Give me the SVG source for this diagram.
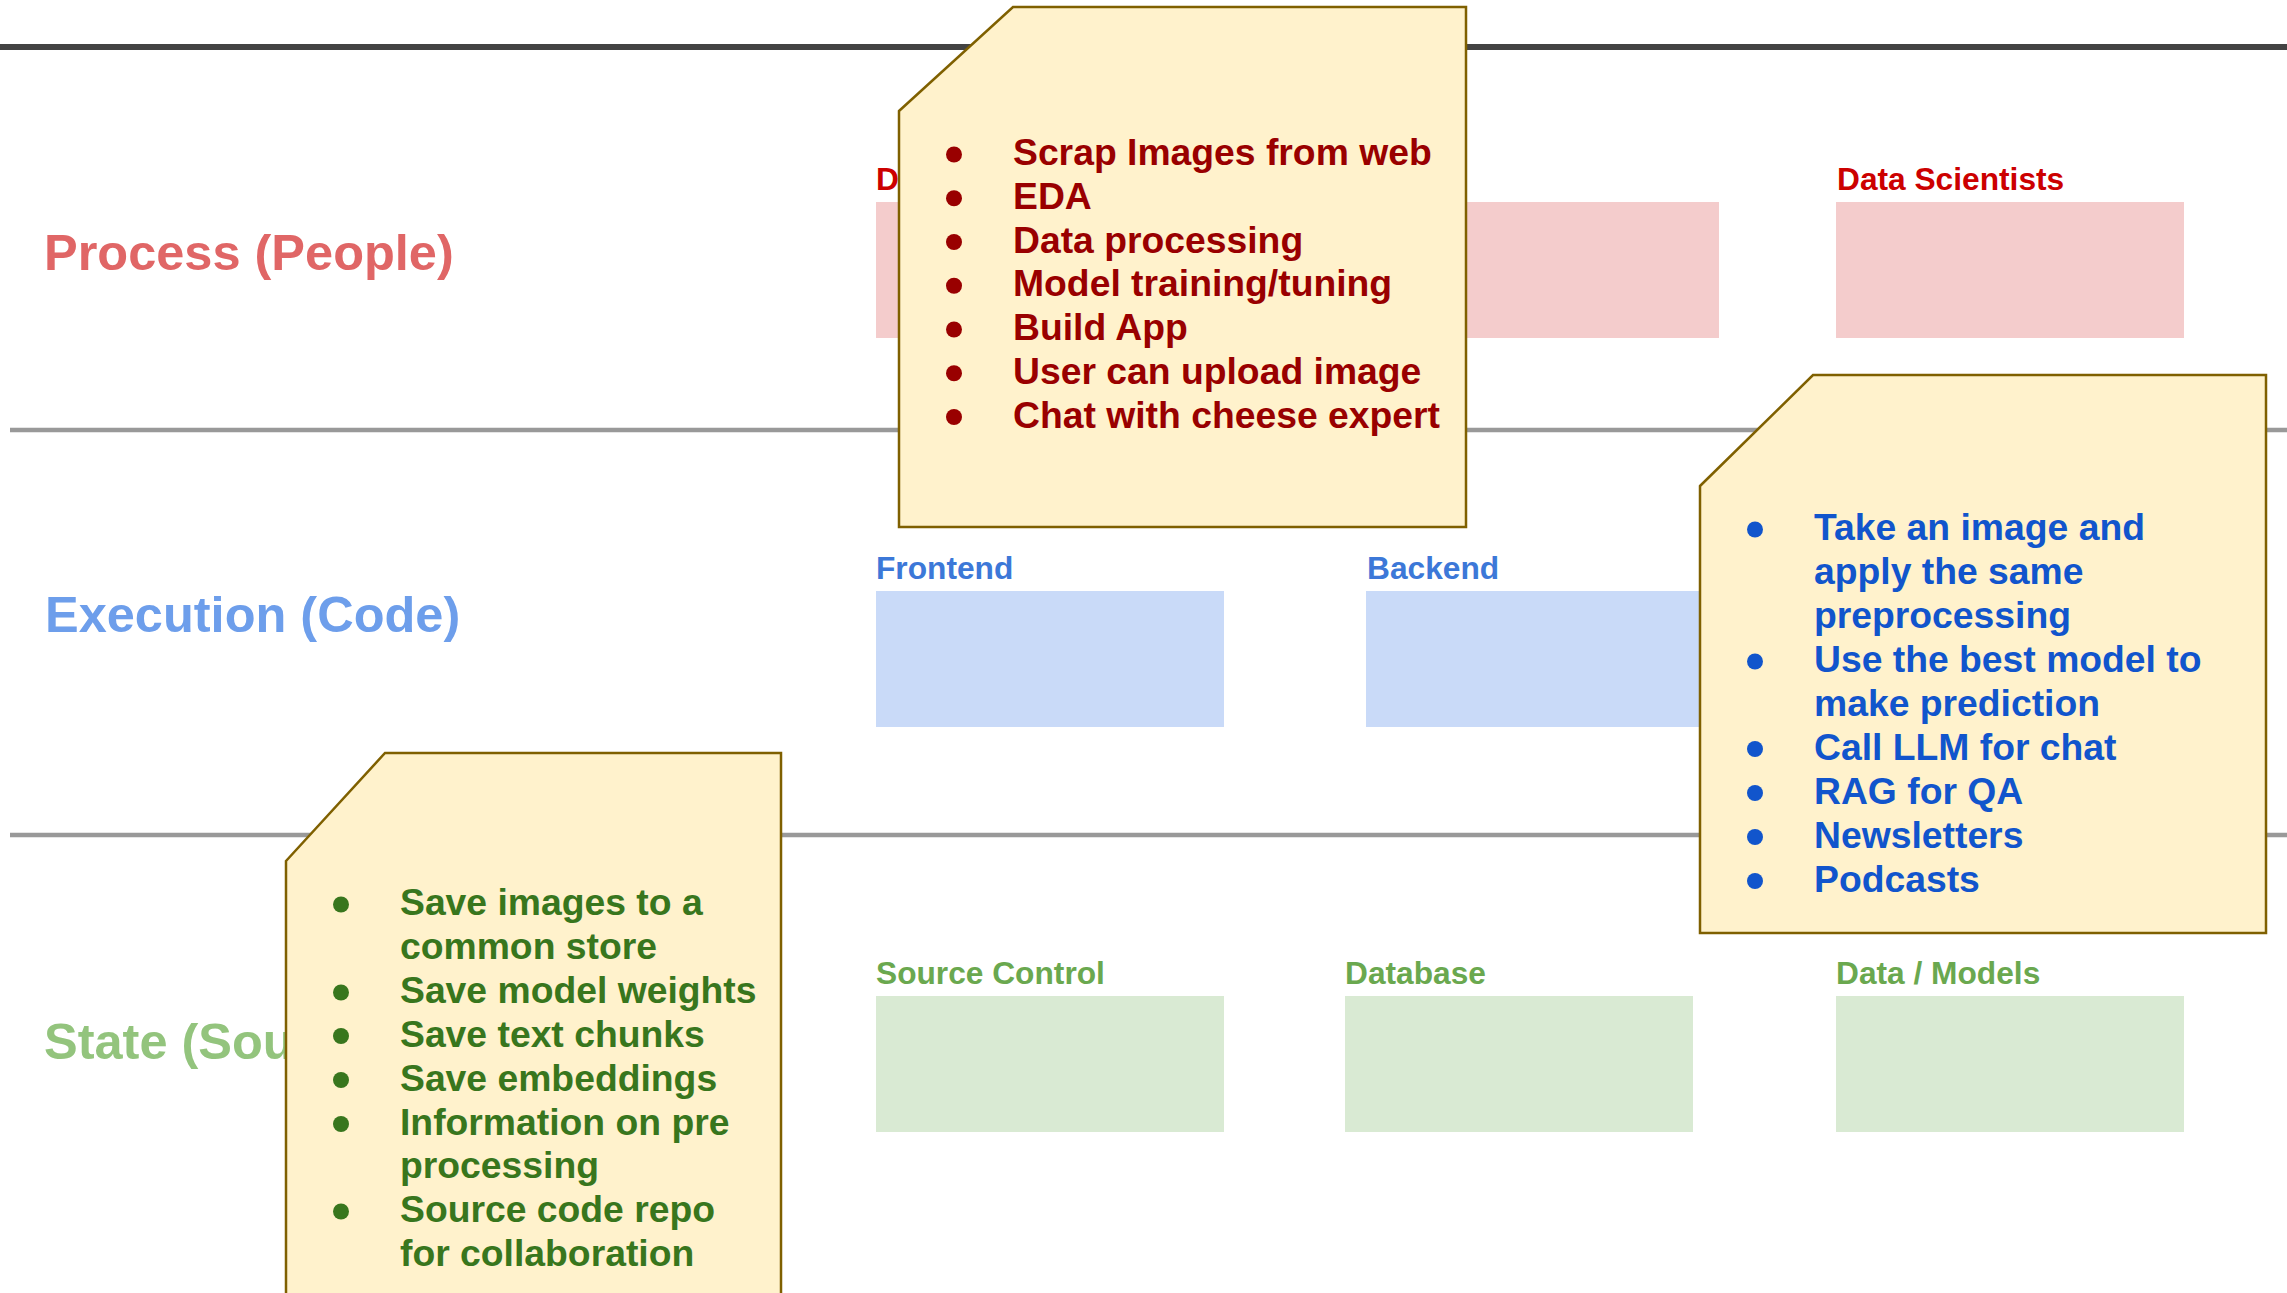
<svg xmlns="http://www.w3.org/2000/svg" width="2287" height="1293" viewBox="0 0 2287 1293">
  <style>
    text { font-family: "Liberation Sans", Arial, sans-serif; font-weight: bold; }
    .lane { font-size: 50.5px; }
    .cap { font-size: 31.7px; }
    .item { font-size: 37.3px; }
    .note { fill: #fff2cc; stroke: #7f6000; stroke-width: 2.5; stroke-linejoin: miter; }
    .divider { stroke: #999999; stroke-width: 4.5; }
    .pink { fill: #f4cccc; }
    .blue { fill: #c9daf8; }
    .green { fill: #d9ead3; }
  </style>

  <rect width="2287" height="1293" fill="#ffffff"/>

  <!-- lane dividers -->
  <g id="dividers">
    <line x1="0" y1="47" x2="2287" y2="47" stroke="#434343" stroke-width="6"/>
    <line class="divider" x1="10" y1="430" x2="2287" y2="430"/>
    <line class="divider" x1="10" y1="835" x2="2287" y2="835"/>
  </g>

  <g id="connectors"/>

  <!-- lane titles -->
  <g id="lane-process"><text class="lane" x="44" y="270" fill="#e06666">Process (People)</text></g>
  <g id="lane-execution"><text class="lane" x="45" y="632" fill="#6d9eeb">Execution (Code)</text></g>
  <g id="lane-state"><text class="lane" x="44" y="1059" fill="#93c47d">State (Sou</text></g>

  <!-- process row -->
  <g id="people-1">
    <text class="cap" x="876" y="190" fill="#cc0000">D</text>
    <rect class="pink" x="876" y="202" width="348" height="136"/>
  </g>
  <g id="people-2">
    <rect class="pink" x="1371" y="202" width="348" height="136"/>
  </g>
  <g id="data-scientists">
    <text class="cap" x="1837" y="190" fill="#cc0000">Data Scientists</text>
    <rect class="pink" x="1836" y="202" width="348" height="136"/>
  </g>

  <!-- execution row -->
  <g id="frontend">
    <text class="cap" x="876" y="579" fill="#3c78d8">Frontend</text>
    <rect class="blue" x="876" y="591" width="348" height="136"/>
  </g>
  <g id="backend">
    <text class="cap" x="1367" y="579" fill="#3c78d8">Backend</text>
    <rect class="blue" x="1366" y="591" width="348" height="136"/>
  </g>

  <!-- state row -->
  <g id="source-control">
    <text class="cap" x="876" y="984" fill="#6aa84f">Source Control</text>
    <rect class="green" x="876" y="996" width="348" height="136"/>
  </g>
  <g id="database">
    <text class="cap" x="1345" y="984" fill="#6aa84f">Database</text>
    <rect class="green" x="1345" y="996" width="348" height="136"/>
  </g>
  <g id="data-models">
    <text class="cap" x="1836" y="984" fill="#6aa84f">Data / Models</text>
    <rect class="green" x="1836" y="996" width="348" height="136"/>
  </g>

  <!-- process note -->
  <g id="note-process">
    <polygon class="note" points="899,111 1013,7 1466,7 1466,527 899,527"/>
    <g fill="#990000">
      <circle cx="954" cy="154.5" r="8"/>
      <circle cx="954" cy="198.25" r="8"/>
      <circle cx="954" cy="242" r="8"/>
      <circle cx="954" cy="285.75" r="8"/>
      <circle cx="954" cy="329.5" r="8"/>
      <circle cx="954" cy="373.25" r="8"/>
      <circle cx="954" cy="417" r="8"/>
      <text class="item" x="1013" y="165">Scrap Images from web</text>
      <text class="item" x="1013" y="208.75">EDA</text>
      <text class="item" x="1013" y="252.5">Data processing</text>
      <text class="item" x="1013" y="296.25">Model training/tuning</text>
      <text class="item" x="1013" y="340">Build App</text>
      <text class="item" x="1013" y="383.75">User can upload image</text>
      <text class="item" x="1013" y="427.5">Chat with cheese expert</text>
    </g>
  </g>

  <!-- execution note -->
  <g id="note-execution">
    <polygon class="note" points="1700,486 1813,375 2266,375 2266,933 1700,933"/>
    <g fill="#1155cc">
      <circle cx="1755" cy="529.5" r="8"/>
      <circle cx="1755" cy="661.5" r="8"/>
      <circle cx="1755" cy="749" r="8"/>
      <circle cx="1755" cy="793" r="8"/>
      <circle cx="1755" cy="837" r="8"/>
      <circle cx="1755" cy="881" r="8"/>
      <text class="item" x="1814" y="540">Take an image and</text>
      <text class="item" x="1814" y="584">apply the same</text>
      <text class="item" x="1814" y="628">preprocessing</text>
      <text class="item" x="1814" y="672">Use the best model to</text>
      <text class="item" x="1814" y="716">make prediction</text>
      <text class="item" x="1814" y="759.5">Call LLM for chat</text>
      <text class="item" x="1814" y="803.5">RAG for QA</text>
      <text class="item" x="1814" y="847.5">Newsletters</text>
      <text class="item" x="1814" y="891.5">Podcasts</text>
    </g>
  </g>

  <!-- state note -->
  <g id="note-state">
    <polygon class="note" points="286,861 385,753 781,753 781,1310 286,1310"/>
    <g fill="#38761d">
      <circle cx="341" cy="904.5" r="8"/>
      <circle cx="341" cy="992.5" r="8"/>
      <circle cx="341" cy="1036" r="8"/>
      <circle cx="341" cy="1080" r="8"/>
      <circle cx="341" cy="1124" r="8"/>
      <circle cx="341" cy="1211.5" r="8"/>
      <text class="item" x="400" y="915">Save images to a</text>
      <text class="item" x="400" y="959">common store</text>
      <text class="item" x="400" y="1003">Save model weights</text>
      <text class="item" x="400" y="1046.5">Save text chunks</text>
      <text class="item" x="400" y="1090.5">Save embeddings</text>
      <text class="item" x="400" y="1134.5">Information on pre</text>
      <text class="item" x="400" y="1178">processing</text>
      <text class="item" x="400" y="1222">Source code repo</text>
      <text class="item" x="400" y="1266">for collaboration</text>
    </g>
  </g>
</svg>
